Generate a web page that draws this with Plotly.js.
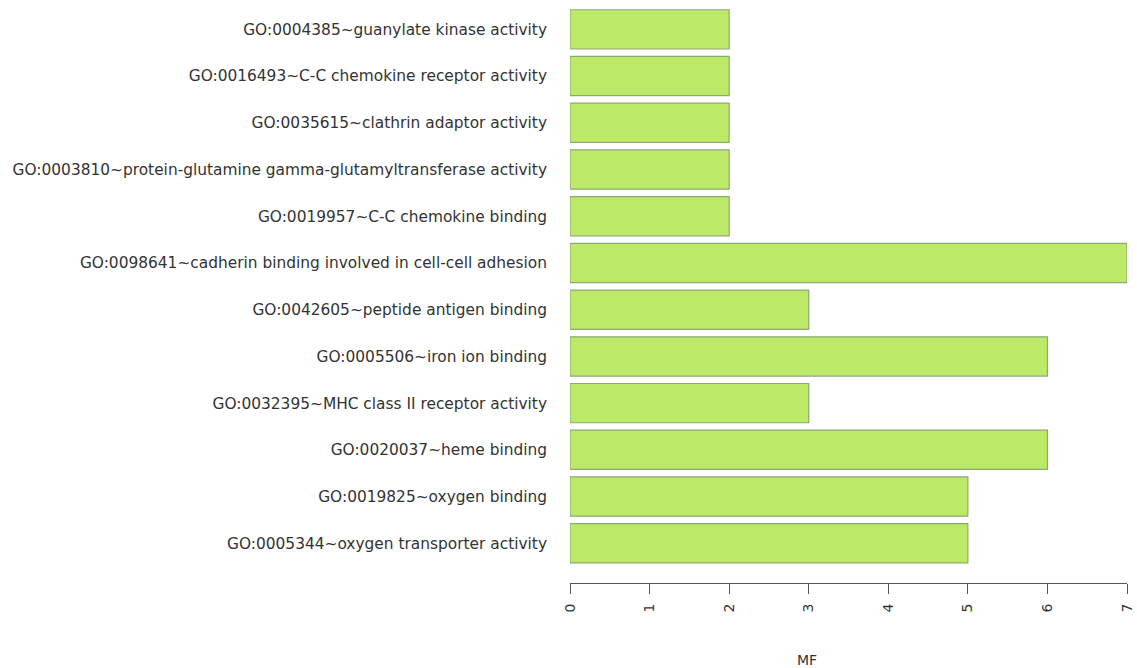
<!DOCTYPE html>
<html>
<head>
<meta charset="utf-8">
<script src="https://cdn.plot.ly/plotly-3.0.1.min.js"></script>
<style>html,body{margin:0;padding:0;background:#fff;}#chart{width:1137px;height:668px;}</style>
</head>
<body>
<div id="chart"></div>
<script>
// bottom to top
const terms = [
  "GO:0005344~oxygen transporter activity",
  "GO:0019825~oxygen binding",
  "GO:0020037~heme binding",
  "GO:0032395~MHC class II receptor activity",
  "GO:0005506~iron ion binding",
  "GO:0042605~peptide antigen binding",
  "GO:0098641~cadherin binding involved in cell-cell adhesion",
  "GO:0019957~C-C chemokine binding",
  "GO:0003810~protein-glutamine gamma-glutamyltransferase activity",
  "GO:0035615~clathrin adaptor activity",
  "GO:0016493~C-C chemokine receptor activity",
  "GO:0004385~guanylate kinase activity"
];
const counts = [5, 5, 6, 3, 6, 3, 7, 2, 2, 2, 2, 2];
const xTicks = [0, 1, 2, 3, 4, 5, 6, 7];
const xTitle = "MF";

const font = {family: "DejaVu Sans, Verdana, sans-serif", size: 15.4, color: "#333"};
const tfont = {family: "DejaVu Sans, Verdana, sans-serif", size: 14, color: "#333"};

Plotly.newPlot("chart", [{
  type: "bar",
  orientation: "h",
  x: counts,
  y: terms,
  width: 0.84,
  marker: {color: "#BCEA68", line: {color: "#8EA874", width: 1.2}},
  hoverinfo: "x+y"
}], {
  width: 1137, height: 668,
  margin: {l: 569.5, r: 10, t: 6, b: 85},
  paper_bgcolor: "#fff", plot_bgcolor: "#fff",
  showlegend: false,
  font: font,
  xaxis: {
    range: [0, 7],
    tickvals: xTicks,
    ticktext: xTicks.map(String),
    tickangle: -90,
    ticks: "outside", ticklen: 10, tickcolor: "#555", tickwidth: 1,
    showline: true, linecolor: "#555", linewidth: 1,
    showgrid: false, zeroline: false,
    ticklabelstandoff: 4,
    tickfont: tfont
  },
  yaxis: {
    type: "category",
    range: [-0.85, 11.5],
    showline: false, showgrid: false, zeroline: false,
    ticks: "",
    ticklabelstandoff: 22,
    tickfont: font
  },
  annotations: [{
    text: xTitle, xref: "paper", yref: "paper",
    x: (807 - 569.5) / (1137 - 569.5 - 10), y: 0,
    yshift: -77, xanchor: "center", yanchor: "middle",
    showarrow: false, font: tfont
  }]
}, {displayModeBar: false, staticPlot: true});
</script>
</body>
</html>
